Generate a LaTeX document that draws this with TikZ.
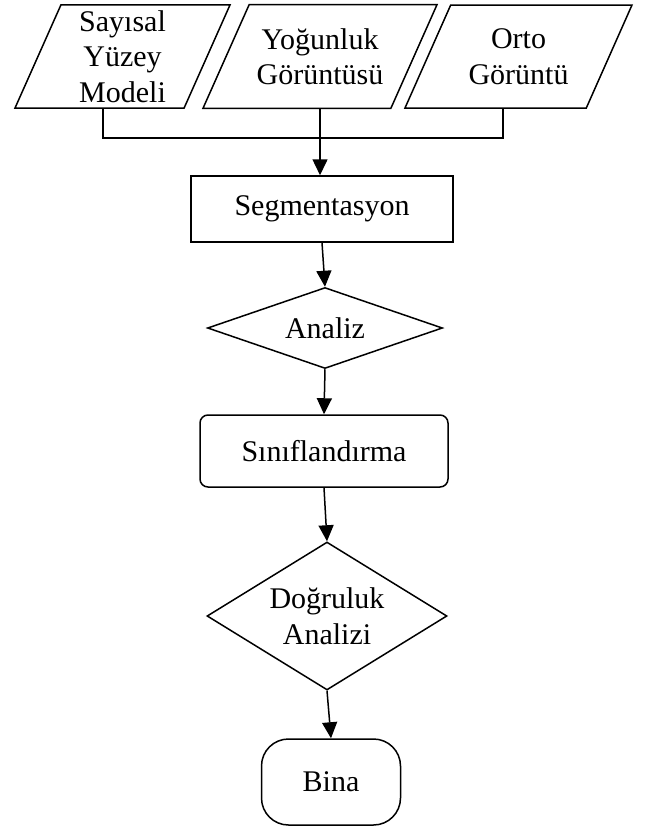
\documentclass[tikz,border=0pt]{standalone}
\usepackage{fontspec}
\setmainfont{Liberation Serif}
\usetikzlibrary{shapes.geometric,arrows.meta}

\begin{document}
\begin{tikzpicture}[x=1pt, y=-1pt, line width=1.5pt,
    every node/.style={font=\fontsize{30}{35.5}\selectfont, align=center},
    datain/.style={draw, trapezium, trapezium left angle=66, trapezium right angle=114,
        trapezium stretches body=true, minimum height=103pt, inner xsep=0pt},
    proc/.style={draw, rectangle},
    decide/.style={draw, diamond, inner sep=0pt},
    arr/.style={-{Triangle[width=15pt,length=16pt]}}]
    \useasboundingbox (0,0) rectangle (645,830);

    % Nodes for input data
    \node[datain, inner ysep=5.5pt, minimum width=215pt] (p1) at (122.5,56.5) {Sayısal\\Yüzey\\Modeli};
    \node[datain, inner ysep=23.5pt, minimum width=234pt] (p2) at (320,56.5) {Yoğunluk\\Görüntüsü};
    \node[datain, inner ysep=23.5pt, minimum width=227pt] (p3) at (518.5,56.5) {Orto\\Görüntü};

    % Nodes for processing steps
    \node[proc, minimum width=262pt, minimum height=66pt] (seg) at (322,209) {Segmentasyon};
    \node[decide, minimum width=235pt, minimum height=81pt, aspect=2.9] (an) at (325,328) {Analiz};
    \node[proc, rounded corners=8pt, minimum width=248pt, minimum height=72pt] (sin) at (324,451) {Sınıflandırma};
    \node[decide, minimum width=240pt, minimum height=148pt, aspect=1.62] (dog) at (327,616) {Doğruluk\\Analizi};
    \node[proc, rounded corners=27pt, minimum width=139pt, minimum height=86pt] (bina) at (331,782) {Bina};

    % Joining line
    \coordinate (j1) at (103,138);
    \coordinate (j3) at (503,138);
    \draw (p1.south -| j1) -- (j1) -- (j3) -- (p3.south -| j3);

    % Arrows
    \draw[arr] (p2.south) -- (p2.south |- seg.north);
    \draw[arr] (seg.south) -- (an.north);
    \draw[arr] (an.south) -- (sin.north);
    \draw[arr] (sin.south) -- (dog.north);
    \draw[arr] (dog.south) -- (bina.north);
\end{tikzpicture}
\end{document}
